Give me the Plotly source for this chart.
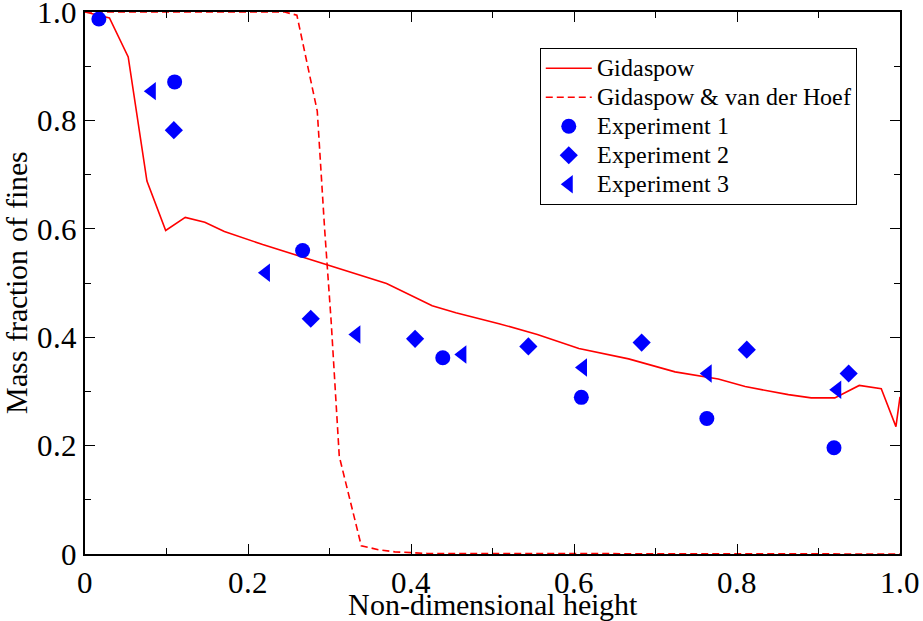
import glob
import base64
import plotly.graph_objects as go

# Simulation curves
gid_x = [0.0, 0.03, 0.053, 0.076, 0.099, 0.123, 0.147, 0.171, 0.218, 0.296, 0.370, 0.426,
         0.455, 0.508, 0.555, 0.606, 0.667, 0.724, 0.777, 0.810, 0.863, 0.891, 0.920,
         0.950, 0.977, 0.995, 1.0]
gid_y = [1.0, 0.989, 0.917, 0.688, 0.597, 0.621, 0.612, 0.595, 0.571, 0.534, 0.499, 0.458,
         0.445, 0.425, 0.405, 0.379, 0.360, 0.336, 0.323, 0.309, 0.294, 0.288, 0.288,
         0.311, 0.305, 0.235, 0.29]

gvh_x = [0.0, 0.245, 0.26, 0.285, 0.294, 0.302, 0.312, 0.339, 0.36, 0.38, 0.42, 1.0]
gvh_y = [1.0, 1.0, 0.994, 0.817, 0.6, 0.43, 0.18, 0.015, 0.008, 0.004, 0.001, 0.0]

# Experiments
e1_x = [0.017, 0.110, 0.267, 0.439, 0.609, 0.763, 0.919]
e1_y = [0.987, 0.871, 0.560, 0.362, 0.289, 0.250, 0.196]
e2_x = [0.109, 0.277, 0.405, 0.544, 0.683, 0.812, 0.937]
e2_y = [0.782, 0.434, 0.397, 0.383, 0.390, 0.377, 0.333]
e3_x = [0.082, 0.222, 0.333, 0.463, 0.611, 0.764, 0.923]
e3_y = [0.854, 0.519, 0.405, 0.368, 0.344, 0.333, 0.303]

tick_vals = [0, 0.2, 0.4, 0.6, 0.8, 1.0]
tick_text = ["0", "0.2", "0.4", "0.6", "0.8", "1.0"]

series_names = ["Gidaspow", "Gidaspow &amp; van der Hoef",
                "Experiment 1", "Experiment 2", "Experiment 3"]

RED = "#ff0000"
BLUE = "#0000ff"

# Locate an installed serif font file so the browser can use it via @font-face
font_css = ""
cands = []
for pat in ["/usr/share/fonts/**/LiberationSerif-Regular.ttf",
            "/usr/share/fonts/**/Tinos-Regular.ttf",
            "/usr/share/fonts/**/DejaVuSerif.ttf",
            "/usr/local/share/fonts/**/LiberationSerif-Regular.ttf",
            "/usr/**/LiberationSerif-Regular.ttf"]:
    cands += glob.glob(pat, recursive=True)
    if cands:
        break
if cands:
    with open(cands[0], "rb") as fh:
        b64 = base64.b64encode(fh.read()).decode("ascii")
    font_css = ("@font-face{font-family:'RefSerif';src:url(data:font/ttf;base64," + b64 +
                ") format('truetype');}"
                "g.xtick text, g.ytick text, g.xtick tspan, g.ytick tspan"
                "{font-family:'RefSerif' !important;}")

FONT = "RefSerif"


def leg(name):
    return '<span style="font-size:24px">' + name + '</span>'


def tk(label):
    return '<span style="font-family:RefSerif">' + label + '</span>'


fig = go.Figure()
fig.add_trace(go.Scatter(x=gid_x, y=gid_y, mode="lines", name=leg(series_names[0]),
                         line=dict(color=RED, width=1.6)))
fig.add_trace(go.Scatter(x=gvh_x, y=gvh_y, mode="lines", name=leg(series_names[1]),
                         line=dict(color=RED, width=1.6, dash="7px,4px")))
fig.add_trace(go.Scatter(x=e1_x, y=e1_y, mode="markers", name=leg(series_names[2]),
                         marker=dict(color=BLUE, symbol="circle", size=15)))
fig.add_trace(go.Scatter(x=e2_x, y=e2_y, mode="markers", name=leg(series_names[3]),
                         marker=dict(color=BLUE, symbol="diamond", size=14)))
fig.add_trace(go.Scatter(x=e3_x, y=e3_y, mode="markers", name=leg(series_names[4]),
                         marker=dict(color=BLUE, symbol="triangle-left", size=16)))

axis_common = dict(
    showgrid=False, zeroline=False, showline=True, linecolor="black", linewidth=1.5,
    mirror="ticks", ticks="inside", ticklen=10, tickwidth=1.2, tickcolor="black",
    tickvals=tick_vals, ticktext=[tk(t) for t in tick_text], automargin=False,
    ticklabeloverflow="allow",
    minor=dict(ticks="inside", ticklen=6, tickwidth=1, tickcolor="black", dtick=0.1, showgrid=False),
    tickfont=dict(family=FONT, size=31, color="black"),
)

fig.update_layout(
    width=923, height=621,
    margin=dict(l=85, r=23, t=12, b=67),
    paper_bgcolor="white", plot_bgcolor="white",
    font=dict(family=FONT, color="black"),
    xaxis=dict(range=[0, 1.0], title=dict(text="Non-dimensional height",
               font=dict(family=FONT, size=30), standoff=0), **axis_common),
    yaxis=dict(range=[0, 1.0], title=dict(text="Mass fraction of fines",
               font=dict(family=FONT, size=30), standoff=4), **axis_common),
    legend=dict(x=0.558, y=0.934, xanchor="left", yanchor="top",
                bgcolor="white", bordercolor="black", borderwidth=1,
                font=dict(family=FONT, size=20, color="black"),
                tracegroupgap=0, itemwidth=46),
    showlegend=True,
)

post = """
document.body.style.margin='0';document.body.style.padding='0';
var st=document.createElement('style');st.textContent=%s;document.head.appendChild(st);
var gd=document.getElementById('{plot_id}');
if(document.fonts){document.fonts.load("30px RefSerif").then(function(){
  Plotly.newPlot(gd, gd.data, gd.layout, {displayModeBar:false});
});}
""" % repr(font_css)

fig.write_html("out.html", post_script=post, config={"displayModeBar": False})
